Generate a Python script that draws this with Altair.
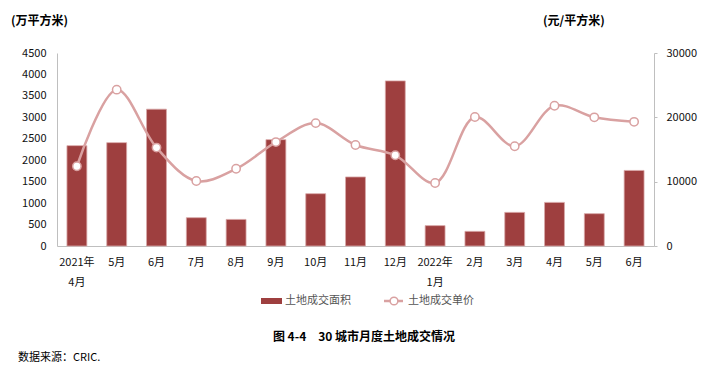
import altair as alt
import pandas as pd
import json

months = ["2021年|4月", "5月", "6月", "7月", "8月", "9月", "10月", "11月", "12月",
          "2022年|1月", "2月", "3月", "4月", "5月", "6月"]
area = [2340, 2410, 3190, 660, 620, 2480, 1220, 1610, 3850, 475, 342, 784, 1017, 754, 1762]
price = [12400, 24300, 15300, 10100, 12000, 16150, 19100, 15700, 14100, 9800,
         20050, 15500, 21800, 20000, 19300]

left_title = "(万平方米)"
right_title = "(元/平方米)"
series_names = ["土地成交面积", "土地成交单价"]
fig_title = "图 4-4　30 城市月度土地成交情况"
source_note = "数据来源：CRIC."

BAR = "#9E3F3F"
LINE = "#D9A1A1"
FONT = "Noto Sans CJK SC"
AXISC = "#BFBFBF"

df = pd.DataFrame({"idx": list(range(len(months))), "area": area, "price": price})
base = alt.Chart(df)

label_expr = "split(" + json.dumps(months, ensure_ascii=False).replace('"', "'") + "[datum.value], '|')"

x_enc = alt.X("idx:O", sort=None,
              scale=alt.Scale(paddingInner=0.5, paddingOuter=0.25),
              axis=alt.Axis(title=None, labelAngle=0, ticks=False, domainColor=AXISC,
                            labelExpr=label_expr, labelLineHeight=20,
                            labelPadding=10, labelFontSize=11, labelColor="#111",
                            labelFont=FONT))

bars = base.mark_bar(color=BAR, stroke="#D9A8A8", strokeWidth=0.8).encode(
    x=x_enc,
    y=alt.Y("area:Q", scale=alt.Scale(domain=[0, 4500]),
            axis=alt.Axis(title=None, values=list(range(0, 4501, 500)), format="d", grid=False,
                          ticks=False, domainColor=AXISC, labelPadding=11,
                          labelFontSize=11, labelColor="#111", labelFont=FONT)),
)

line = base.mark_line(color=LINE, strokeWidth=2.5, interpolate="catmull-rom").encode(
    x=alt.X("idx:O", sort=None),
    y=alt.Y("price:Q", scale=alt.Scale(domain=[0, 30000]),
            axis=alt.Axis(title=None, orient="right", values=list(range(0, 30001, 5000)),
                          format="d", grid=False, ticks=True, tickSize=3, tickColor=AXISC,
                          domainColor=AXISC, labelPadding=9, labelFontSize=11,
                          labelColor="#111", labelFont=FONT)),
)
pts = base.mark_point(shape="circle", filled=True, fill="white", stroke=LINE,
                      strokeWidth=1.5, size=70, opacity=1).encode(
    x=alt.X("idx:O", sort=None),
    y=alt.Y("price:Q"),
)

one = pd.DataFrame({"a": [0]})
ann = alt.Chart(one)

def txt(t, x, y, size=11, bold=False, align="left", color="#000"):
    return ann.mark_text(text=t, font=FONT, fontSize=size,
                         fontWeight="bold" if bold else "normal",
                         align=align, baseline="middle", color=color).encode(
        x=alt.value(x), y=alt.value(y))

annots = [
    txt(left_title, -46, -32, 12, True),
    txt(right_title, 486, -32, 12, True),
    ann.mark_rect(color=BAR).encode(x=alt.value(204), x2=alt.value(225),
                                    y=alt.value(245), y2=alt.value(251)),
    txt(series_names[0], 228, 248, 11, color="#555"),
    ann.mark_rule(color=LINE, strokeWidth=2.5).encode(x=alt.value(327), x2=alt.value(346),
                                                       y=alt.value(248)),
    ann.mark_point(shape="circle", filled=True, fill="white", stroke=LINE, strokeWidth=1.5,
                   size=60, opacity=1).encode(x=alt.value(337), y=alt.value(248)),
    txt(series_names[1], 351, 248, 11, color="#555"),
    txt(fig_title, 307, 284, 12, True, "center"),
    txt(source_note, -39, 305, 11),
]

chart = alt.layer(bars, alt.layer(line, pts), *annots).resolve_scale(y="independent").properties(
    width=597, height=193,
    padding={"left": 49, "top": 45, "right": 48, "bottom": 120},
    autosize=alt.AutoSizeParams(type="none"),
).configure_view(stroke=None)

chart.save("out.html", embed_options={"renderer": "svg", "actions": False})
